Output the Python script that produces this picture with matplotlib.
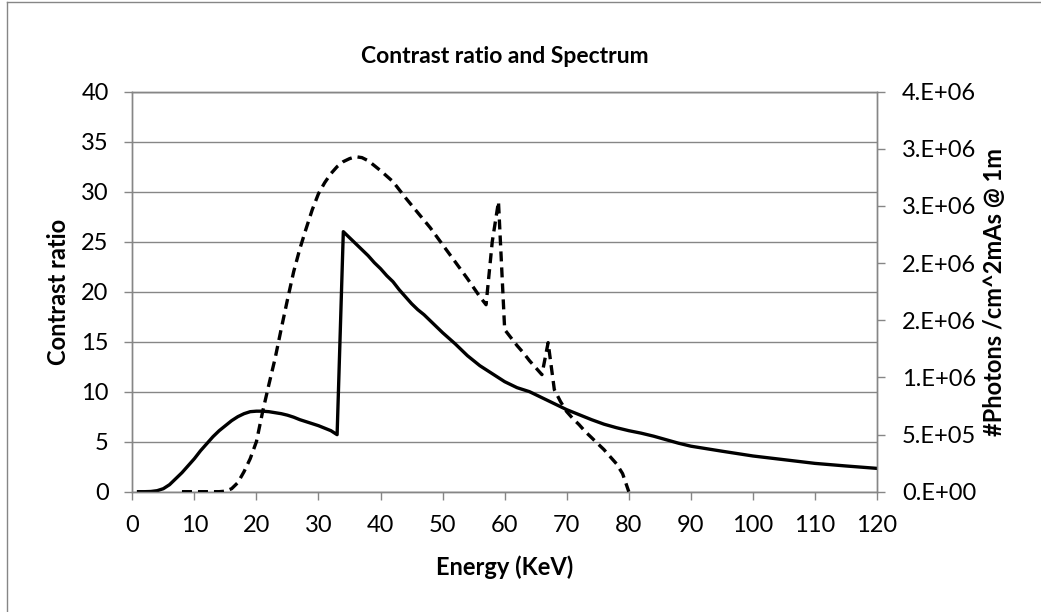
import matplotlib.pyplot as plt
from matplotlib.lines import Line2D
from matplotlib.ticker import FixedLocator, FuncFormatter

# contrast ratio vs energy (left axis)
contrast_kev = [1, 2, 3, 4, 5, 6, 7, 8, 9, 10, 11, 12, 13, 14, 15, 16, 17, 18, 19, 20,
                21, 22, 23, 24, 25, 26, 27, 28, 29, 30, 31, 32, 33, 34, 35, 36, 37, 38,
                39, 40, 41, 42, 43, 44, 45, 46, 47, 48, 49, 50, 52, 54, 56, 58, 60, 62,
                64, 66, 68, 70, 72, 74, 76, 78, 80, 82, 84, 86, 88, 90, 92, 95, 100,
                105, 110, 115, 120]
contrast = [0.0, 0.0, 0.02, 0.1, 0.3, 0.7, 1.3, 1.9, 2.6, 3.3, 4.1, 4.8, 5.5, 6.1, 6.6,
            7.1, 7.5, 7.8, 8.0, 8.05, 8.05, 8.0, 7.9, 7.8, 7.65, 7.45, 7.2, 7.0, 6.8,
            6.6, 6.35, 6.1, 5.7, 26.0, 25.4, 24.8, 24.2, 23.6, 22.9, 22.3, 21.6, 21.0,
            20.2, 19.5, 18.8, 18.2, 17.7, 17.1, 16.5, 15.9, 14.8, 13.6, 12.6, 11.8,
            11.0, 10.4, 10.0, 9.4, 8.8, 8.2, 7.7, 7.2, 6.75, 6.4, 6.1, 5.85, 5.55, 5.2,
            4.85, 4.55, 4.35, 4.05, 3.57, 3.2, 2.83, 2.57, 2.33]

# tube spectrum, photons per cm^2 mAs at 1 m (right axis)
spectrum_kev = [8, 10, 12, 14, 15, 16, 17, 18, 19, 20, 21, 22, 23, 24, 25, 26, 27, 28,
                29, 30, 31, 32, 33, 34, 35, 36, 37, 38, 39, 40, 42, 44, 46, 48, 50, 52,
                54, 56, 57, 58, 59, 60, 61, 62, 63, 64, 65, 66, 67, 68, 69, 70, 71, 72,
                73, 74, 75, 76, 77, 78, 79, 80]
photons = [0, 0, 0, 0, 4.4e3, 2.6e4, 7.9e4, 1.75e5, 2.89e5, 4.38e5, 7.00e5, 9.36e5,
           1.164e6, 1.426e6, 1.680e6, 1.925e6, 2.126e6, 2.301e6, 2.468e6, 2.608e6,
           2.704e6, 2.783e6, 2.844e6, 2.888e6, 2.914e6, 2.931e6, 2.923e6, 2.896e6,
           2.853e6, 2.809e6, 2.713e6, 2.573e6, 2.441e6, 2.310e6, 2.161e6, 2.013e6,
           1.864e6, 1.706e6, 1.636e6, 2.188e6, 2.538e6, 1.418e6, 1.348e6, 1.278e6,
           1.216e6, 1.146e6, 1.085e6, 1.024e6, 1.304e6, 8.93e5, 7.88e5, 7.00e5,
           6.39e5, 5.86e5, 5.25e5, 4.73e5, 4.20e5, 3.68e5, 3.06e5, 2.45e5, 1.58e5, 0]

x_ticks = list(range(0, 121, 10))
left_ticks = list(range(0, 41, 5))
right_ticks = [0, 5e5, 1e6, 1.5e6, 2e6, 2.5e6, 3e6, 3.5e6]

GREY = "#868686"
plt.rcParams["font.family"] = ["Lato", "DejaVu Sans"]

fig = plt.figure(figsize=(10.41, 6.12), dpi=100)
ax = fig.add_axes([0.1271, 0.1966, 0.8425 - 0.1271, 0.8502 - 0.1966])
ax2 = ax.twinx()

ax.set_xlim(0, 120)
ax.set_ylim(0, 40)
ax2.set_ylim(0, 3.5e6)

ax.xaxis.set_major_locator(FixedLocator(x_ticks))
ax.yaxis.set_major_locator(FixedLocator(left_ticks))
ax2.yaxis.set_major_locator(FixedLocator(right_ticks))


def sci_label(v, pos):
    # Excel style "0.E+00" formatting, halves rounded up
    if v == 0:
        return "0.E+00"
    exp = len(str(int(v))) - 1
    mant = int(v / 10 ** exp + 0.5)
    return f"{mant}.E+{exp:02d}"


ax2.yaxis.set_major_formatter(FuncFormatter(sci_label))

ax.grid(axis="y", color=GREY, linewidth=1.0)
ax.set_axisbelow(True)
for a in (ax, ax2):
    for side in ("left", "right", "bottom", "top"):
        a.spines[side].set_color(GREY)
        a.spines[side].set_linewidth(1.0)
    a.tick_params(axis="both", which="major", color=GREY, width=1.0, length=6,
                  direction="out", labelsize=17, labelcolor="black")
ax.tick_params(axis="y", pad=11)
ax.tick_params(axis="x", pad=11)
ax2.tick_params(axis="y", pad=12)

ax.plot(contrast_kev, contrast, color="black", linewidth=2.4, zorder=3,
        solid_joinstyle="round")
ax2.plot(spectrum_kev, photons, color="black", linewidth=2.4, zorder=3,
         linestyle=(0, (3.0, 1.8)))

ax.set_title("Contrast ratio and Spectrum", fontsize=16.5, fontweight="bold", pad=21)
ax.set_xlabel("Energy (KeV)", fontsize=17, fontweight="bold", labelpad=14)
ax.set_ylabel("Contrast ratio", fontsize=17, fontweight="bold", labelpad=8)
ax2.set_ylabel("#Photons /cm^2mAs @ 1m", fontsize=17, fontweight="bold", labelpad=5)

# chart frame, only the top and left edges fall inside the image
fx = 6.5 / 1041
fy = 1 - 1.5 / 612
fig.add_artist(Line2D([fx, fx], [0, fy], color=GREY, linewidth=1.0))
fig.add_artist(Line2D([fx, 1], [fy, fy], color=GREY, linewidth=1.0))

fig.savefig("out.png", dpi=100)
